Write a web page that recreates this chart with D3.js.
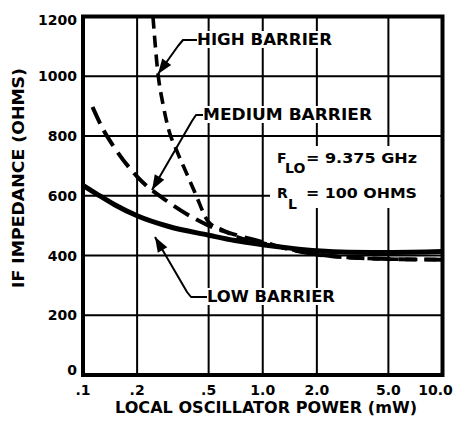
<!DOCTYPE html>
<html><head><meta charset="utf-8">
<script src="https://cdn.jsdelivr.net/npm/d3@7"></script>
<style>
body{margin:0;background:#fff}
svg{display:block}
text{font-family:"DejaVu Sans",sans-serif;font-weight:bold;fill:#000}
</style>
</head><body>
<svg id="c" width="466" height="423"></svg>
<script>
// ---- data ----
const xTicks = [0.1, 0.2, 0.5, 1, 2, 5, 10];
const xTickLabels = [".1", ".2", ".5", "1.0", "2.0", "5.0", "10.0"];
const yTicks = [0, 200, 400, 600, 800, 1000, 1200];
const yTickLabels = ["0", "200", "400", "600", "800", "1000", "1200"];

const lowPower  = [0.1, 0.12, 0.15, 0.2, 0.3, 0.5, 0.7, 1.0, 1.5, 2, 3, 5, 10];
const lowImped  = [635, 605, 570, 533, 497, 468, 450, 436, 423, 416, 411, 410, 413];

const medPower  = [0.113, 0.13, 0.15, 0.2, 0.3, 0.4, 0.5, 0.7, 1.0, 1.5, 2, 3, 5, 10];
const medImped  = [897, 820, 760, 664, 578, 530, 500, 470, 445, 417, 404, 394, 388, 386];

const highPower = [0.245, 0.26, 0.28, 0.3, 0.33, 0.38, 0.42, 0.5, 0.6, 0.7, 1.0, 1.5, 2, 3, 5, 10];
const highImped = [1200, 1020, 900, 820, 755, 670, 610, 512, 485, 465, 442, 418, 403, 393, 388, 386];

const xTitle = "LOCAL OSCILLATOR POWER (mW)";
const yTitle = "IF IMPEDANCE (OHMS)";

// ---- chart ----
const svg = d3.select("#c");
const L = 83, R = 442.5, T = 16.5, B = 375;
const x = d3.scaleLog().domain([0.1, 10]).range([L, R]);
const y = d3.scaleLinear().domain([0, 1200]).range([B, T]);

svg.append("rect").attr("width", 466).attr("height", 423).attr("fill", "#fff");

// grid
const g = svg.append("g");
g.selectAll("line.h").data(yTicks.slice(1, -1)).join("line")
  .attr("x1", L).attr("x2", R).attr("y1", d => y(d)).attr("y2", d => y(d))
  .attr("stroke", "#000").attr("stroke-width", 2.2);
g.selectAll("line.v").data(xTicks.slice(1, -1)).join("line")
  .attr("y1", T).attr("y2", B).attr("x1", d => x(d)).attr("x2", d => x(d))
  .attr("stroke", "#000").attr("stroke-width", 2);

// white box behind the conditions text
svg.append("rect").attr("x", 270).attr("y", 146).attr("width", R - 2 - 270).attr("height", 62).attr("fill", "#fff");

const line = d3.line().x(d => x(d[0])).y(d => y(d[1])).curve(d3.curveMonotoneX);
const zip = (a, b) => a.map((v, i) => [v, b[i]]);

svg.append("path").datum(zip(highPower, highImped)).attr("d", line)
  .attr("fill", "none").attr("stroke", "#000").attr("stroke-width", 3.6)
  .attr("stroke-dasharray", "12,7");
svg.append("path").datum(zip(medPower, medImped)).attr("d", line)
  .attr("fill", "none").attr("stroke", "#000").attr("stroke-width", 4)
  .attr("stroke-dasharray", "18,8");
svg.append("path").datum(zip(lowPower, lowImped)).attr("d", line)
  .attr("fill", "none").attr("stroke", "#000").attr("stroke-width", 5);

// labels with white background
function label(txt, x0, base, len) {
  const t = svg.append("text").attr("x", x0).attr("y", base).attr("font-size", 16.5)
    .attr("textLength", len).attr("lengthAdjust", "spacingAndGlyphs").text(txt);
  const bb = t.node().getBBox();
  svg.insert("rect", () => t.node()).attr("x", bb.x - 1).attr("y", bb.y + 1)
    .attr("width", bb.width + 3).attr("height", bb.height - 2).attr("fill", "#fff");
}
label("HIGH BARRIER", 197, 45, 135);
label("MEDIUM BARRIER", 203, 120, 169);
label("LOW BARRIER", 207, 302, 128);

function leader(pts) {
  svg.append("polyline").attr("points", pts.map(p => p.join(",")).join(" "))
    .attr("fill", "none").attr("stroke", "#000").attr("stroke-width", 2).attr("stroke-linejoin", "round");
  const [x1, y1] = pts[pts.length - 2], [x2, y2] = pts[pts.length - 1];
  const dx = x2 - x1, dy = y2 - y1, n = Math.hypot(dx, dy), ux = dx / n, uy = dy / n;
  const len = 15, hw = 5.5;
  const bx = x2 - ux * len, by = y2 - uy * len;
  svg.append("path").attr("d", `M${x2},${y2}L${bx - uy * hw},${by + ux * hw}L${bx + uy * hw},${by - ux * hw}Z`).attr("fill", "#000");
}
leader([[197, 40], [183, 40], [178, 46], [158, 74]]);
leader([[203, 115], [196, 115], [192, 121], [152, 190]]);
leader([[207, 297], [191, 297], [187, 292], [155, 237]]);

// conditions text
svg.append("text").attr("x", 277).attr("y", 163).attr("font-size", 14).text("F");
svg.append("text").attr("x", 285).attr("y", 173).attr("font-size", 14).text("LO");
svg.append("text").attr("x", 306).attr("y", 163).attr("font-size", 14)
  .attr("textLength", 111).attr("lengthAdjust", "spacingAndGlyphs").text("= 9.375 GHz");
svg.append("text").attr("x", 277).attr("y", 198).attr("font-size", 14).text("R");
svg.append("text").attr("x", 288).attr("y", 209).attr("font-size", 14).text("L");
svg.append("text").attr("x", 306).attr("y", 198).attr("font-size", 14)
  .attr("textLength", 111).attr("lengthAdjust", "spacingAndGlyphs").text("= 100 OHMS");

// border
svg.append("rect").attr("x", L).attr("y", T).attr("width", R - L).attr("height", B - T)
  .attr("fill", "none").attr("stroke", "#000").attr("stroke-width", 4);

// tick labels
svg.selectAll("text.yt").data(yTicks).join("text").attr("class", "yt")
  .attr("x", 77).attr("y", (d, i) => y(d) + (d === 0 ? 0 : d === 1200 ? 8.5 : 5))
  .attr("text-anchor", "end").attr("font-size", 14).text((d, i) => yTickLabels[i]);
svg.selectAll("text.xt").data(xTicks).join("text").attr("class", "xt")
  .attr("x", (d, i) => x(d) + (i === xTicks.length - 1 ? -7 : 0)).attr("y", 395)
  .attr("text-anchor", "middle").attr("font-size", 14).text((d, i) => xTickLabels[i]);

// axis titles
svg.append("text").attr("x", 266).attr("y", 413).attr("text-anchor", "middle")
  .attr("font-size", 15.5).attr("textLength", 302).attr("lengthAdjust", "spacingAndGlyphs").text(xTitle);
svg.append("text").attr("transform", "translate(24,178) rotate(-90)").attr("text-anchor", "middle")
  .attr("font-size", 16).attr("textLength", 220).attr("lengthAdjust", "spacingAndGlyphs").text(yTitle);
</script>
</body></html>
